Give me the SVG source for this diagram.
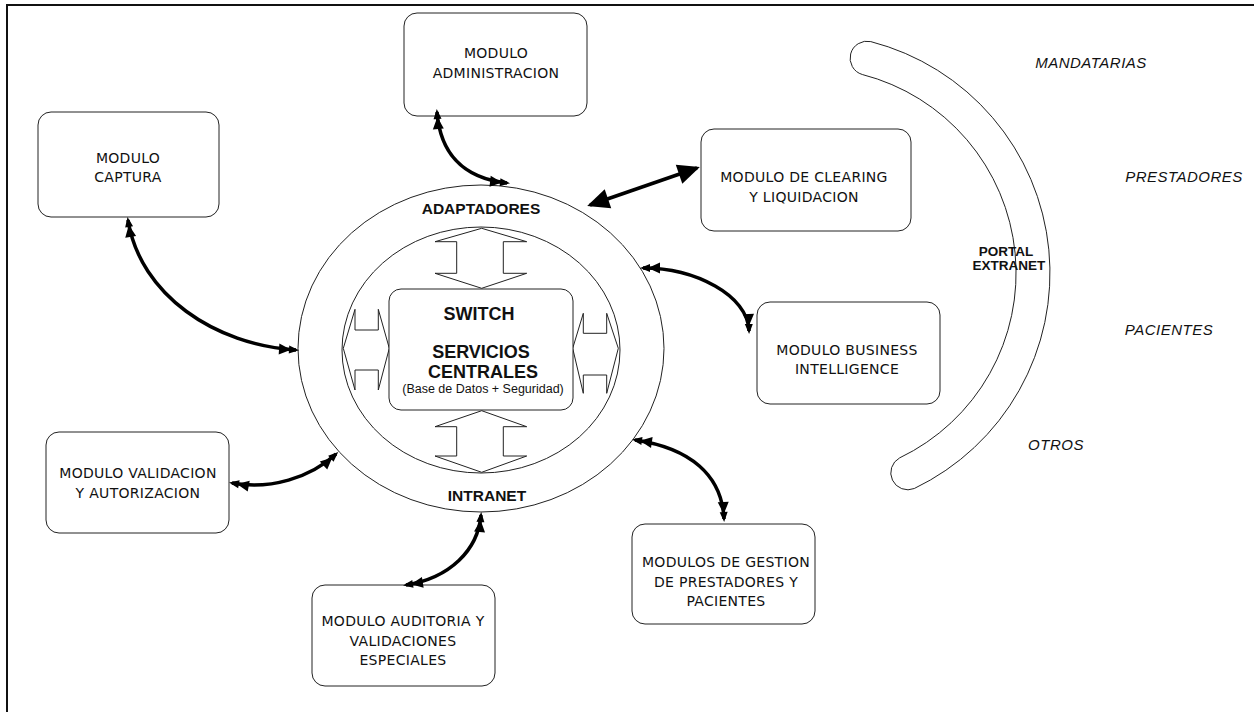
<svg xmlns="http://www.w3.org/2000/svg" width="1254" height="712" viewBox="0 0 1254 712">
<style>
.box{fill:#fff;stroke:#222;stroke-width:1}
.lbl{font-family:"DejaVu Sans",Verdana,sans-serif;font-size:14px;letter-spacing:0.3px;fill:#111;text-anchor:middle}
.bold{font-family:"Liberation Sans",Arial,sans-serif;font-weight:bold;fill:#111;text-anchor:middle}
.ital{font-family:"Liberation Sans",Arial,sans-serif;font-style:italic;font-size:15px;letter-spacing:0.5px;fill:#111;text-anchor:middle}
.conn{fill:none;stroke:#000;stroke-width:3.5;marker-start:url(#dbl);marker-end:url(#dbl)}
.big{fill:none;stroke:#000;stroke-width:3.5;marker-start:url(#big);marker-end:url(#big)}
.blk{fill:#fff;stroke:#222;stroke-width:1}
.ring{fill:none;stroke:#222;stroke-width:1}
</style>
<defs>
<marker id="dbl" markerUnits="userSpaceOnUse" viewBox="-20 -7 24 14" refX="0" refY="0" markerWidth="24" markerHeight="14" orient="auto-start-reverse">
<path d="M3,0 L-7,-4 L-7,4 Z M-5,0 L-17,-5.5 L-17,5.5 Z" fill="#000"/>
</marker>
<marker id="big" markerUnits="userSpaceOnUse" viewBox="-22 -12 26 24" refX="0" refY="0" markerWidth="26" markerHeight="24" orient="auto-start-reverse">
<path d="M3,0 L-19,-10 L-19,10 Z" fill="#000"/>
</marker>
</defs>
<rect x="0" y="0" width="1254" height="712" fill="#fff"/>
<path d="M1254,5 H7 V712" fill="none" stroke="#111" stroke-width="2"/>

<g id="core">
<ellipse class="ring" cx="481" cy="348.5" rx="183" ry="163.5"/>
<ellipse class="ring" cx="481" cy="350" rx="139" ry="123"/>
<polygon class="blk" points="481.7,228.3 526.7,241.7 503.3,241.7 503.3,273.3 526.7,273.3 481.7,288.3 435,273.3 456.7,273.3 456.7,241.7 435,241.7"/>
<polygon class="blk" points="481.7,410.7 526.7,426.7 503.3,426.7 503.3,456 526.7,456 481.7,472.3 435,456 456.7,456 456.7,426.7 435,426.7"/>
<polygon class="blk" points="343.3,348.3 355,309.3 355,330 378.3,330 378.3,309.3 389.3,348.3 378.3,390 378.3,370 355,370 355,390"/>
<polygon class="blk" points="572.7,348.3 583.3,313.3 583.3,333.3 606.7,333.3 606.7,313.3 618.3,348.3 606.7,393.3 606.7,375 583.3,375 583.3,393.3"/>
<rect class="box" x="389" y="289" width="184" height="121" rx="12"/>
<text class="bold" x="481" y="214" font-size="15.5">ADAPTADORES</text>
<text class="bold" x="487" y="501" font-size="15.5">INTRANET</text>
<text class="bold" x="479" y="319.5" font-size="18">SWITCH</text>
<text class="bold" x="481" y="358" font-size="18">SERVICIOS</text>
<text class="bold" x="483" y="377.5" font-size="18">CENTRALES</text>
<text x="483" y="393" font-family="Liberation Sans, Arial, sans-serif" font-size="12.5" text-anchor="middle" fill="#111">(Base de Datos + Seguridad)</text>
</g>

<g id="admin">
<rect class="box" x="404" y="13" width="183" height="103" rx="13"/>
<text class="lbl" x="496" y="58">MODULO</text>
<text class="lbl" x="496" y="77.5">ADMINISTRACION</text>
</g>

<g id="captura">
<rect class="box" x="38" y="112" width="181" height="105" rx="13"/>
<text class="lbl" x="128" y="163">MODULO</text>
<text class="lbl" x="128" y="182">CAPTURA</text>
</g>

<g id="clearing">
<rect class="box" x="701" y="129" width="210" height="102" rx="13"/>
<text class="lbl" x="804" y="182">MODULO DE CLEARING</text>
<text class="lbl" x="804" y="202">Y LIQUIDACION</text>
</g>

<g id="bi">
<rect class="box" x="757" y="302" width="183" height="102" rx="13"/>
<text class="lbl" x="847" y="355">MODULO BUSINESS</text>
<text class="lbl" x="847" y="374">INTELLIGENCE</text>
</g>

<g id="validacion">
<rect class="box" x="46" y="432" width="183" height="101" rx="13"/>
<text class="lbl" x="138" y="478">MODULO VALIDACION</text>
<text class="lbl" x="138" y="498">Y AUTORIZACION</text>
</g>

<g id="auditoria">
<rect class="box" x="312" y="585" width="183" height="101" rx="13"/>
<text class="lbl" x="403" y="626">MODULO AUDITORIA Y</text>
<text class="lbl" x="403" y="645.5">VALIDACIONES</text>
<text class="lbl" x="403" y="665">ESPECIALES</text>
</g>

<g id="gestion">
<rect class="box" x="632" y="524" width="183" height="100" rx="13"/>
<text class="lbl" x="726" y="567">MODULOS DE GESTION</text>
<text class="lbl" x="726" y="587">DE PRESTADORES Y</text>
<text class="lbl" x="726" y="606">PACIENTES</text>
</g>

<g id="portal">
<path d="M870.8,41.6 A239,239 0 0 1 914.3,488.5 A17,17 0 0 1 899.6,457.9 A205,205 0 0 0 862.3,74.5 A17,17 0 0 1 870.8,41.6 Z" fill="none" stroke="#222" stroke-width="1"/>
<text class="bold" x="1006" y="256" font-size="13.5">PORTAL</text>
<text class="bold" x="1009" y="270" font-size="13.5">EXTRANET</text>
</g>

<g id="externos">
<text class="ital" x="1091" y="68">MANDATARIAS</text>
<text class="ital" x="1184" y="182">PRESTADORES</text>
<text class="ital" x="1169" y="335">PACIENTES</text>
<text class="ital" x="1056" y="450">OTROS</text>
</g>

<g id="connectors">
<path class="conn" d="M128,220 C140,295 215,345 296,350"/>
<path class="conn" d="M437,112 C440,150 460,178 507,183"/>
<path class="big" d="M590,205 L697,168"/>
<path class="conn" d="M643,268 C695,268 748,295 749,331"/>
<path class="conn" d="M635,440 C690,448 722,475 724,519"/>
<path class="conn" d="M232,483 C270,490 310,478 336,454"/>
<path class="conn" d="M481,515 C478,550 450,578 406,585"/>
</g>
</svg>
